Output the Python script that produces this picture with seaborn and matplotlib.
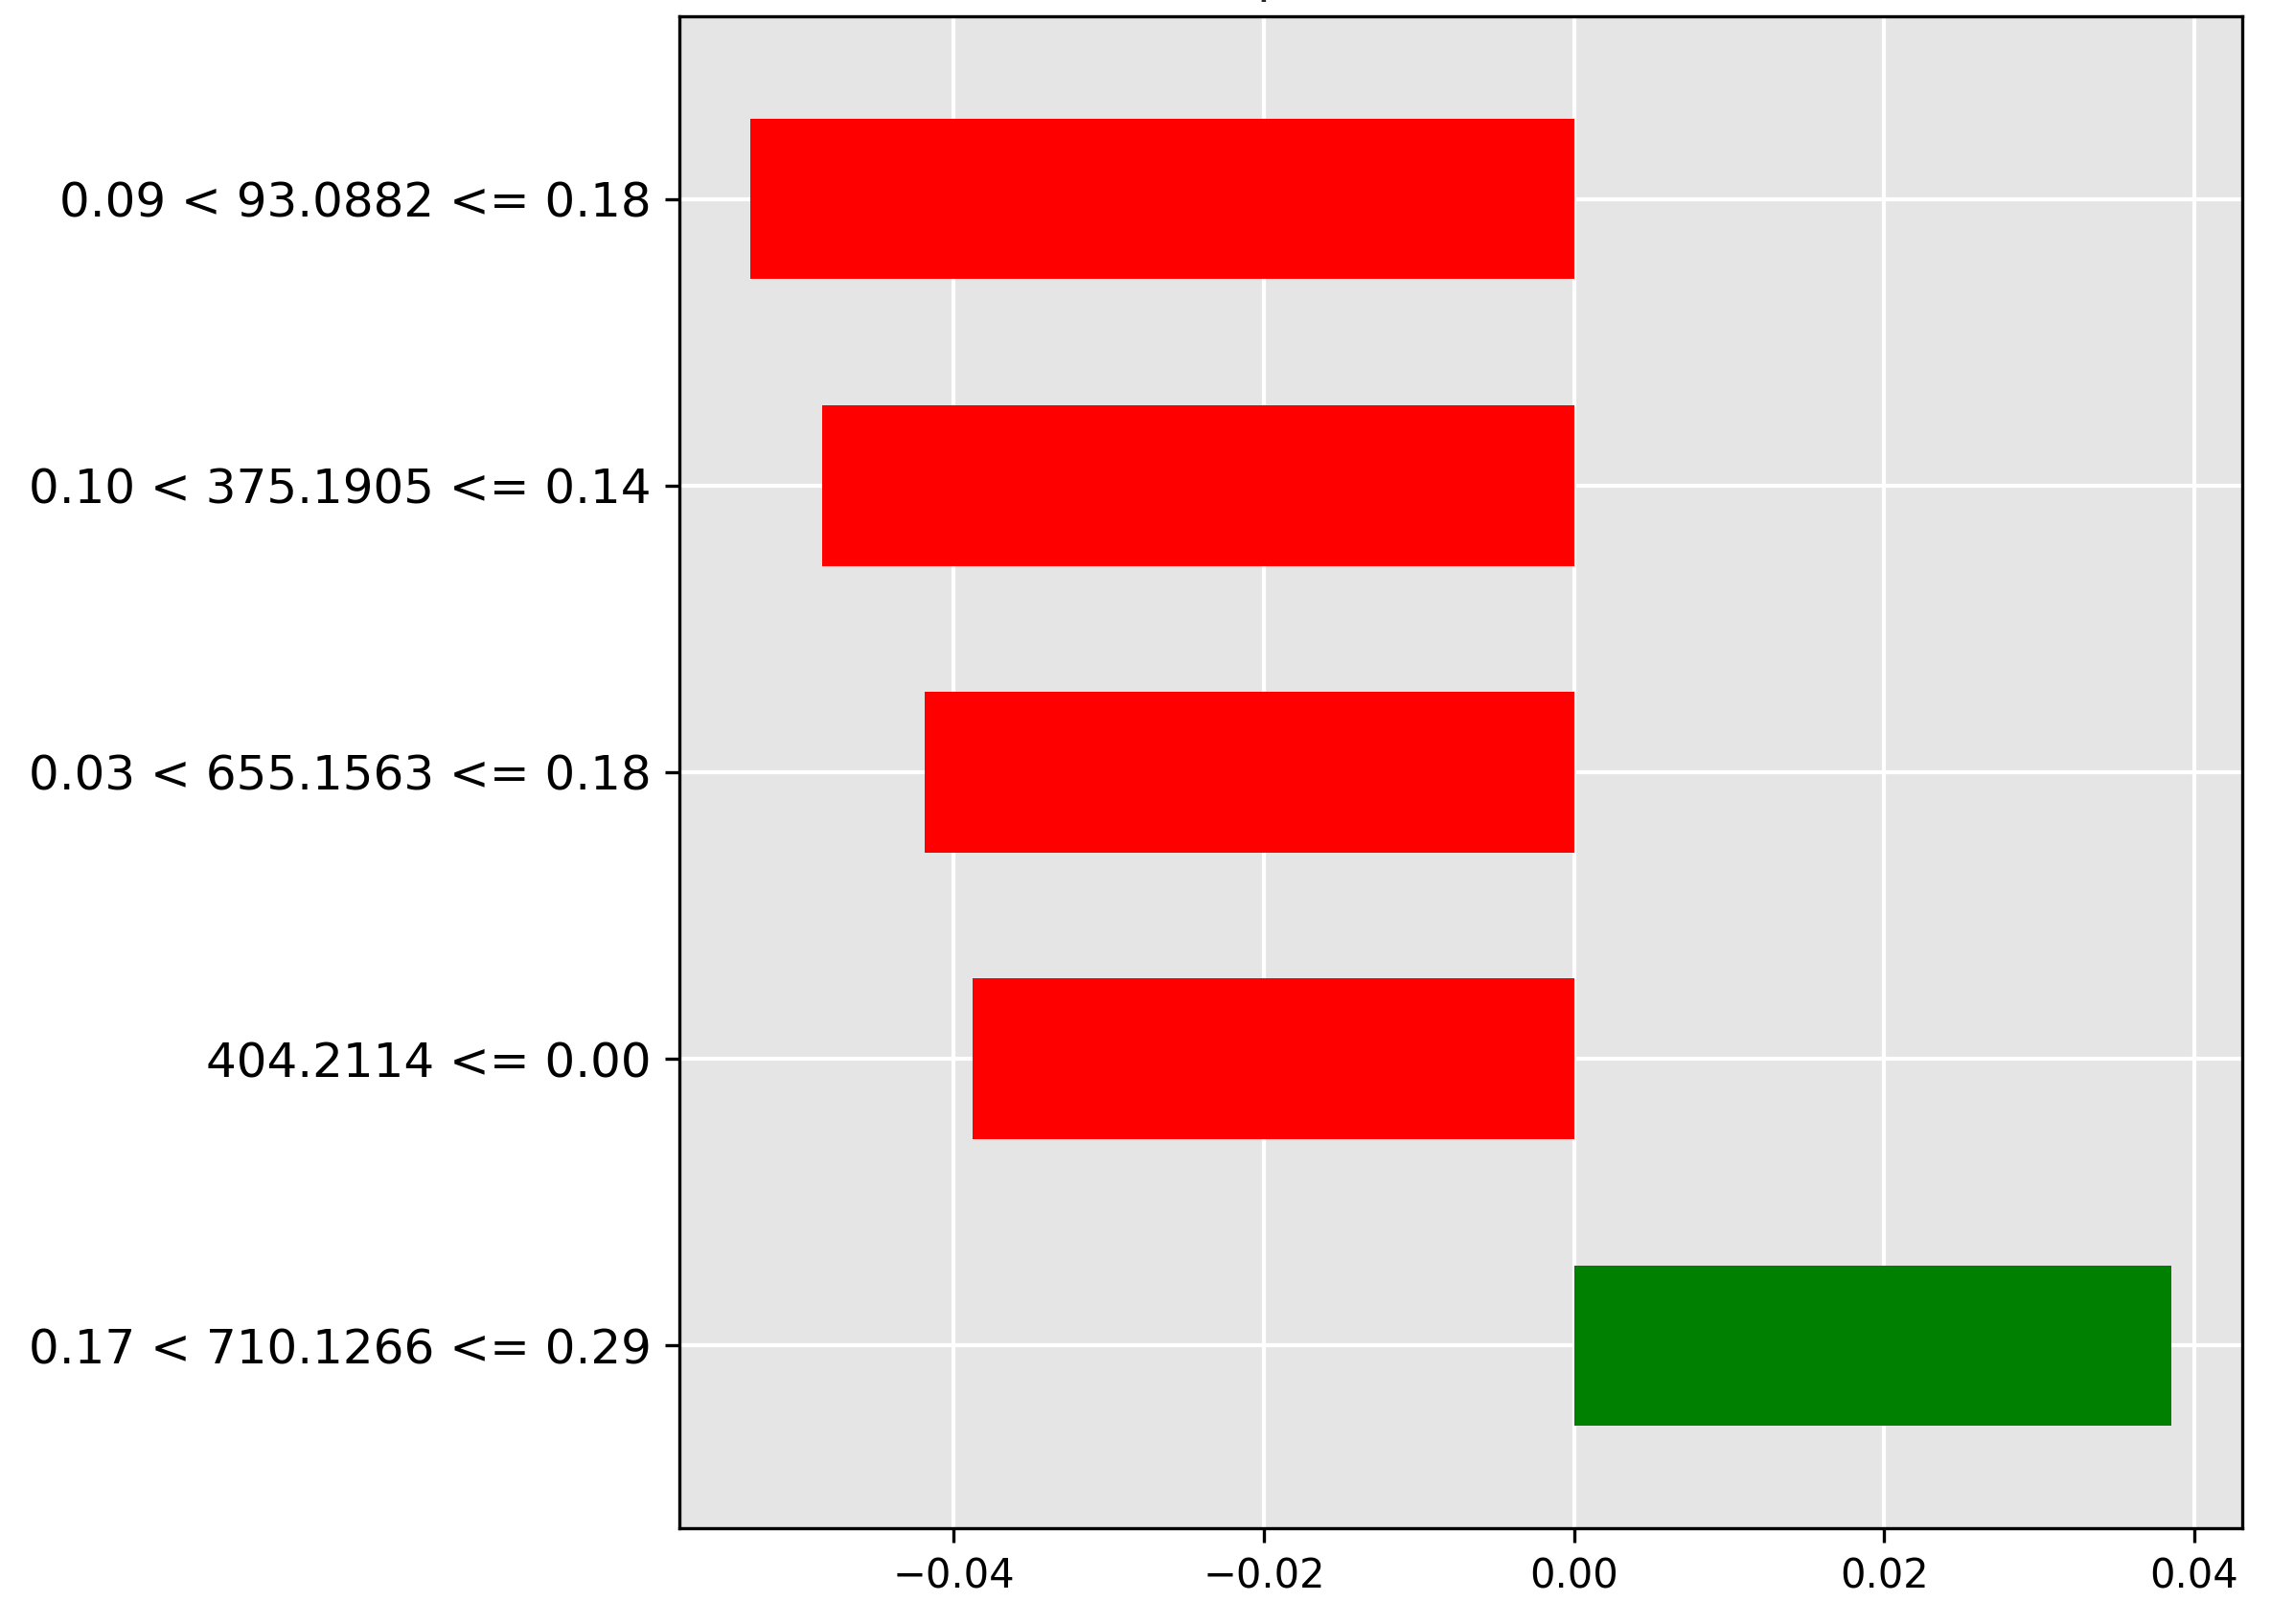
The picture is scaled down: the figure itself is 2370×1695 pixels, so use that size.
import pandas as pd
import seaborn as sns
import matplotlib.pyplot as plt

# data (top bar first)
feature_labels = [
    "0.09 < 93.0882 <= 0.18",
    "0.10 < 375.1905 <= 0.14",
    "0.03 < 655.1563 <= 0.18",
    "404.2114 <= 0.00",
    "0.17 < 710.1266 <= 0.29",
]
weights = [-0.0531, -0.0485, -0.0419, -0.0388, 0.0385]
bar_colors = ["red" if w < 0 else "green" for w in weights]
x_ticks = [-0.04, -0.02, 0.00, 0.02, 0.04]
title_text = "Local explanation for class Active"

df = pd.DataFrame({"feature": feature_labels, "weight": weights})

# ---- style ----
sns.set_theme(style="darkgrid", rc={
    "axes.facecolor": "#E5E5E5",
    "axes.edgecolor": "black",
    "axes.linewidth": 0.8,
    "grid.color": "white",
    "grid.linewidth": 1.0,
    "xtick.bottom": True,
    "ytick.left": True,
    "xtick.color": "black",
    "ytick.color": "black",
    "xtick.major.size": 3.5,
    "ytick.major.size": 3.5,
    "xtick.major.width": 0.8,
    "ytick.major.width": 0.8,
})
plt.rcParams["font.family"] = ["DejaVu Sans"]

fig = plt.figure(figsize=(7.9, 5.65), dpi=300)
ax = fig.add_subplot(111)
fig.subplots_adjust(left=0.2992, right=0.9873, bottom=0.059, top=0.990)

sns.barplot(
    data=df, x="weight", y="feature", hue="feature",
    palette=bar_colors, legend=False, width=0.56,
    saturation=1, orient="h", linewidth=0, ax=ax,
)

ax.set_xticks(x_ticks)
ax.set_ylim(len(feature_labels) - 1 + 0.637, -0.637)
ax.set_xlabel("")
ax.set_ylabel("")
ax.grid(True, axis="both", color="white", linewidth=1.0)
ax.tick_params(axis="y", labelsize=12, labelcolor="black")
ax.tick_params(axis="x", labelsize=10, labelcolor="black")
# title sits mostly above the canvas, as in the original export
ax.set_title(title_text, fontsize=12)
ax.set_axisbelow(True)

plt.savefig("out.png", dpi=300)
